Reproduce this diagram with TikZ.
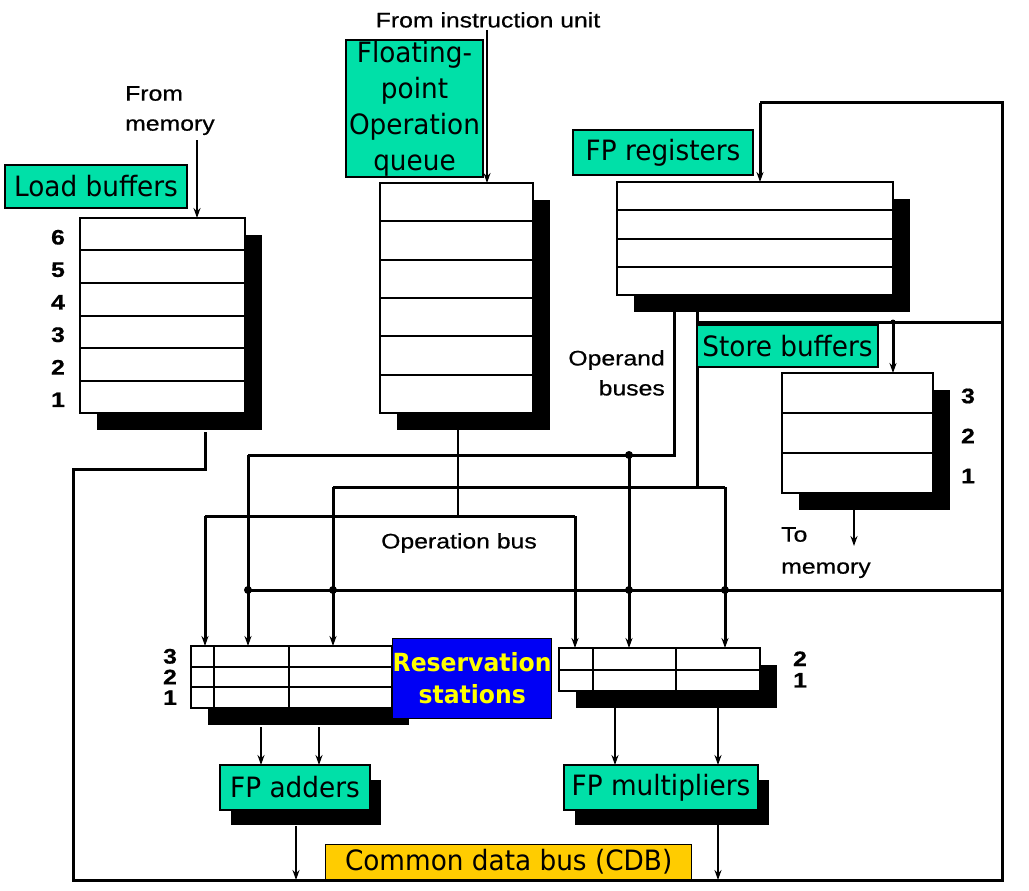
\documentclass[tikz,border=0pt]{standalone}
\usepackage{fontspec}
\newfontfamily\lbl[FakeStretch=0.94]{DejaVu Sans}
\newfontfamily\bk[FakeStretch=1.18,FakeBold=0.6]{Liberation Sans}
\usetikzlibrary{shadows,calc,arrows.meta}
\definecolor{lgreen}{RGB}{0,224,168}
\definecolor{cdbyel}{RGB}{255,204,0}
\definecolor{rsblue}{RGB}{0,0,245}
\definecolor{rsyel}{RGB}{255,255,0}
\begin{document}
\begin{tikzpicture}[x=1pt,y=-1pt,
  shadowed/.style={drop shadow={shadow xshift=17pt,shadow yshift=-17pt,fill=black,opacity=1}},
  smallshadow/.style={drop shadow={shadow xshift=11pt,shadow yshift=-15pt,fill=black,opacity=1}},
  regbox/.style={draw,line width=1.8pt,fill=white,inner sep=0pt,outer sep=0pt,anchor=north west,shadowed},
  rowline/.style={line width=2pt},
  glabel/.style={draw,line width=1.3pt,fill=lgreen,inner sep=0pt,outer sep=0pt,anchor=north west,align=center,font=\lbl\fontsize{28}{36}\selectfont},
  bus/.style={line width=3pt},
  thinline/.style={line width=1.8pt},
  tip/.style={-{Stealth[length=10pt,width=7pt]}},
  dot/.style={circle,fill=black,inner sep=0pt,minimum size=8pt},
  txt/.style={font=\bk\fontsize{21}{30}\selectfont,inner sep=0pt},
  num/.style={font=\bk\bfseries\fontsize{21}{30}\selectfont,inner sep=0pt},
]
\useasboundingbox[fill=white] (0,0) rectangle (1029,891);

% ---------- register files / buffers ----------
\node[regbox,minimum width=165pt,minimum height=195pt] (lbuf) at (80,218) {};
\node[regbox,minimum width=153pt,minimum height=230pt] (queue) at (380,183) {};
\node[regbox,minimum width=276pt,minimum height=113pt] (fpreg) at (617,182) {};
\node[regbox,minimum width=151pt,minimum height=120pt] (sbuf) at (782,373) {};
\node[regbox,minimum width=201pt,minimum height=62pt] (rsadd) at (191,646) {};
\node[regbox,minimum width=201pt,minimum height=43pt] (rsmul) at (559,648) {};

\foreach \i in {1,...,5}
  \draw[rowline] ($(lbuf.north west)!\i/6!(lbuf.south west)$) -- ($(lbuf.north east)!\i/6!(lbuf.south east)$);
\foreach \i in {1,...,5}
  \draw[rowline] ($(queue.north west)!\i/6!(queue.south west)$) -- ($(queue.north east)!\i/6!(queue.south east)$);
\foreach \i in {1,...,3}
  \draw[rowline] ($(fpreg.north west)!\i/4!(fpreg.south west)$) -- ($(fpreg.north east)!\i/4!(fpreg.south east)$);
\foreach \i in {1,2}
  \draw[rowline] ($(sbuf.north west)!\i/3!(sbuf.south west)$) -- ($(sbuf.north east)!\i/3!(sbuf.south east)$);
\foreach \i in {1,2}
  \draw[rowline] ($(rsadd.north west)!\i/3!(rsadd.south west)$) -- ($(rsadd.north east)!\i/3!(rsadd.south east)$);
\foreach \f in {0.114,0.488}
  \draw[rowline] ($(rsadd.north west)!\f!(rsadd.north east)$) -- ($(rsadd.south west)!\f!(rsadd.south east)$);
\draw[rowline] ($(rsmul.north west)!0.5!(rsmul.south west)$) -- ($(rsmul.north east)!0.5!(rsmul.south east)$);
\foreach \f in {0.169,0.582}
  \draw[rowline] ($(rsmul.north west)!\f!(rsmul.north east)$) -- ($(rsmul.south west)!\f!(rsmul.south east)$);

% entry numbers
\foreach \i in {1,...,6}{
  \pgfmathtruncatemacro\n{7-\i}
  \node[num] (lbn\n) at ($(lbuf.north west)!{(\i-0.5)/6}!(lbuf.south west) + (-22,3)$) {\n};
}
\foreach \i in {1,2,3}{
  \pgfmathtruncatemacro\n{4-\i}
  \node[num] (sbn\n) at ($(sbuf.north east)!{(\i-0.5)/3}!(sbuf.south east) + (35,3)$) {\n};
}
\foreach \i in {1,2,3}{
  \pgfmathtruncatemacro\n{4-\i}
  \node[num] (ran\n) at ($(rsadd.north west)!{(\i-0.5)/3}!(rsadd.south west) + (-21,0)$) {\n};
}
\foreach \i in {1,2}{
  \pgfmathtruncatemacro\n{3-\i}
  \node[num] (rmn\n) at ($(rsmul.north east)!{(\i-0.5)/2}!(rsmul.south east) + (40,0)$) {\n};
}

% ---------- functional units ----------
\node[glabel,smallshadow,minimum width=150pt,minimum height=45pt] (fpadd) at (220,765) {FP adders};
\node[glabel,smallshadow,minimum width=194pt,minimum height=45pt] (fpmul) at (564,765) {FP multipliers};

% ---------- coordinates of the bus network ----------
\coordinate (lbout) at (205,432);
\coordinate (lbk) at (73,469);
\coordinate (cdbL) at (73,880);
\coordinate (cdbR) at (1002,880);
\coordinate (topR) at (1002,103);
\coordinate (fpin) at (760,103);
\coordinate (rsbusR) at (1002,590);
\coordinate (rsbusL) at (248,590);
\coordinate (sbT) at (697,322);
\coordinate (sbin) at (893,322);
\coordinate (ob1s) at (674,312);
\coordinate (ob1c) at (674,455);
\coordinate (ob1l) at (248,455);
\coordinate (ob1m) at (629,455);
\coordinate (ob2s) at (697,312);
\coordinate (ob2c) at (697,487);
\coordinate (ob2l) at (333,487);
\coordinate (ob2r) at (725,487);
\coordinate (qout) at (458,430);
\coordinate (opc) at (458,516);
\coordinate (opl) at (205,516);
\coordinate (opr) at (575,516);
\coordinate (fm) at (197,140);
\coordinate (fiu) at (487,30);
\coordinate (sbo) at (854,508);
\coordinate (sbm) at (854,546);
\coordinate (ra1) at (261,727);
\coordinate (ra2) at (319,727);
\coordinate (rm1) at (615,708);
\coordinate (rm2) at (718,708);
\coordinate (fao) at (296,826);
\coordinate (fmo) at (718,823);

% common data bus
\draw[bus] (lbout) |- (lbk) -- (cdbL) -- (cdbR) -- (topR) -- (fpin);
\draw[bus,tip] (fpin) -- (fpin |- fpreg.north);
\draw[bus] (rsbusR) -- (rsbusL);
\draw[bus] (sbT) -- (sbT -| topR);
\draw[bus,tip] (sbin) -- (sbin |- sbuf.north);

% operand buses
\draw[bus] (ob1s) -- (ob1c) -- (ob1l);
\draw[bus,tip] (ob1l) -- (ob1l |- rsadd.north);
\draw[bus,tip] (ob1m) -- (ob1m |- rsmul.north);
\draw[bus] (ob2s) -- (ob2c);
\draw[bus] (ob2l) -- (ob2r);
\draw[bus,tip] (ob2l) -- (ob2l |- rsadd.north);
\draw[bus,tip] (ob2r) -- (ob2r |- rsmul.north);

% operation bus
\draw[thinline] (qout) -- (opc);
\draw[bus] (opl) -- (opr);
\draw[bus,tip] (opl) -- (opl |- rsadd.north);
\draw[bus,tip] (opr) -- (opr |- rsmul.north);

% junction dots
\foreach \p/\q in {ob1l/a,ob2l/b,ob1m/c,ob2r/d}
  \node[dot] (dot\q) at (\p |- rsbusL) {};
\node[dot] (dote) at (ob1m) {};
\node[dot,minimum size=5pt] (dotf) at (sbin) {};

% thin arrows
\draw[thinline,tip] (fm) -- (fm |- lbuf.north);
\draw[thinline,tip] (fiu) -- (fiu |- queue.north);
\draw[thinline,tip] (sbo) -- (sbm);
\draw[thinline,tip] (ra1) -- (ra1 |- fpadd.north);
\draw[thinline,tip] (ra2) -- (ra2 |- fpadd.north);
\draw[thinline,tip] (rm1) -- (rm1 |- fpmul.north);
\draw[thinline,tip] (rm2) -- (rm2 |- fpmul.north);
\draw[thinline,tip] (fao) -- (fao |- cdbL);
\draw[thinline,tip] (fmo) -- (fmo |- cdbL);

% ---------- labels ----------
\node[glabel,minimum width=182pt,minimum height=43pt] (lblload) at (5,165) {Load buffers};
\node[glabel,minimum width=137pt,minimum height=137pt] (lblqueue) at (346,40) {Floating-\\point\\Operation\\queue};
\node[glabel,minimum width=180pt,minimum height=45pt] (lblfpreg) at (573,130) {FP registers};
\node[glabel,minimum width=181pt,minimum height=42pt] (lblstore) at (697,325) {Store buffers};
\node[draw,line width=1.3pt,fill=rsblue,text=rsyel,inner sep=0pt,anchor=north west,align=center,
      minimum width=159pt,minimum height=80pt,font=\lbl\bfseries\fontsize{25}{32}\selectfont] (lblrs) at (392,638) {Reservation\\stations};
\node[draw,line width=1.3pt,fill=cdbyel,inner sep=0pt,anchor=north west,
      minimum width=366pt,minimum height=35pt,font=\lbl\fontsize{28}{34}\selectfont] (lblcdb) at (325,844) {Common data bus (CDB)};

\node[txt,anchor=north] (tiu) at (488,12) {From instruction unit};
\node[txt,anchor=north west,align=left] (tfm) at (125,86) {From\\memory};
\node[txt,anchor=north east,align=right] (tob) at (665,350) {Operand\\buses};
\node[txt,anchor=north west,align=left,font=\bk\fontsize{21}{32}\selectfont] (ttm) at (781,527) {To\\memory};
\node[txt,anchor=north] (topb) at (459,533) {Operation bus};
\end{tikzpicture}
\end{document}
